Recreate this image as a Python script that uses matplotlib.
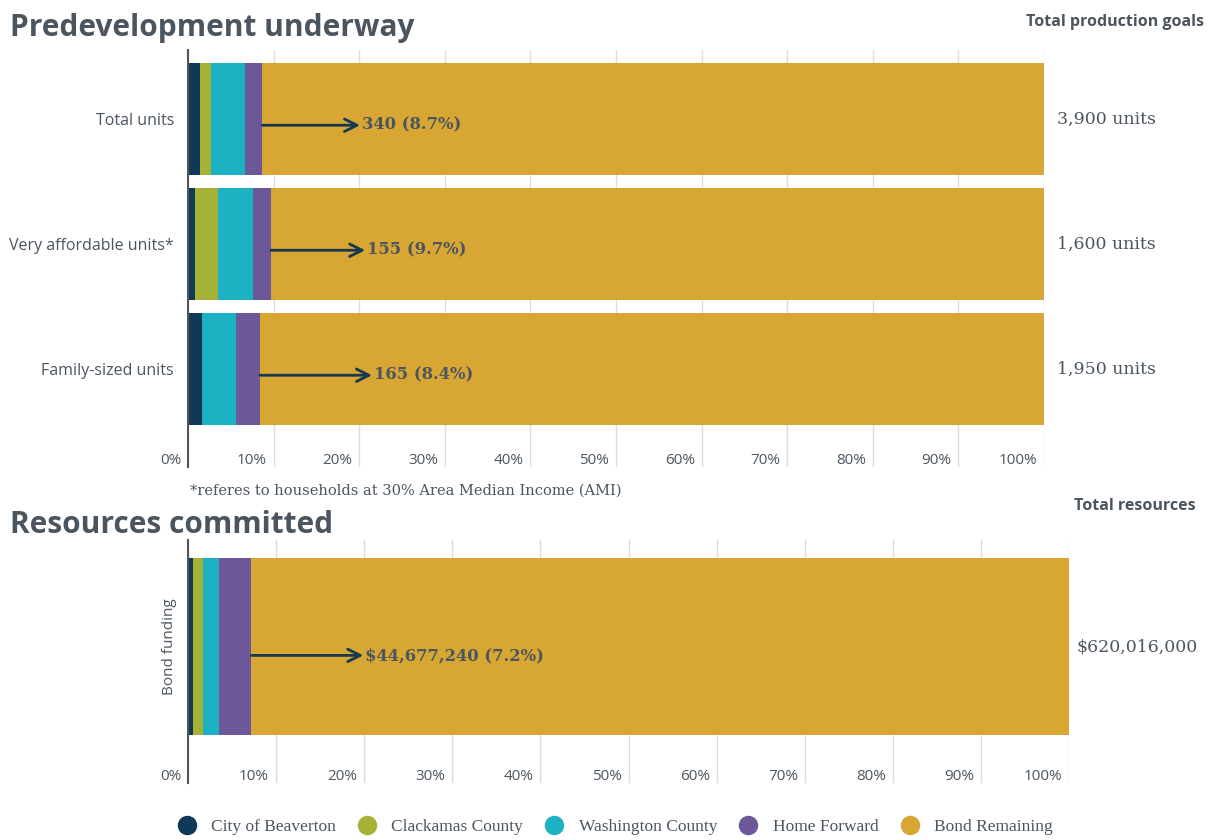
import matplotlib.pyplot as plt
from matplotlib.lines import Line2D
from matplotlib.transforms import ScaledTranslation

# ---- data -------------------------------------------------------------
series = ["City of Beaverton", "Clackamas County", "Washington County", "Home Forward"]
colors = ["#0f3a57", "#a6b236", "#1db1c4", "#6c5898"]
remain_color = "#d8a633"

unit_rows = ["Total units", "Very affordable units*", "Family-sized units"]
unit_shares = {  # percent of goal, per partner
    "City of Beaverton": [1.4, 0.8, 1.6],
    "Clackamas County": [1.3, 2.7, 0.0],
    "Washington County": [4.0, 4.1, 4.05],
    "Home Forward": [2.0, 2.1, 2.75],
}
unit_labels = ["340 (8.7%)", "155 (9.7%)", "165 (8.4%)"]
unit_goals = ["3,900 units", "1,600 units", "1,950 units"]

fund_rows = ["Bond funding"]
fund_shares = {
    "City of Beaverton": [0.6],
    "Clackamas County": [1.1],
    "Washington County": [1.8],
    "Home Forward": [3.7],
}
fund_labels = ["$44,677,240 (7.2%)"]
fund_goals = ["$620,016,000"]

ticks = list(range(0, 101, 10))
tick_labels = [f"{t}%" for t in ticks]

# ---- style ------------------------------------------------------------
GRAY = "#4b5560"
SANS = ["Open Sans", "DejaVu Sans"]
SLAB = ["DejaVu Serif"]
SERIF = ["Liberation Serif", "DejaVu Serif"]
ARROW = "#17394f"

fig = plt.figure(figsize=(12.17, 8.40), dpi=100)


def panel(rect, rows, shares, labels, goals, ylim, height, label_x, goal_dx, rotate=False):
    ax = fig.add_axes(rect)
    left = [0.0] * len(rows)
    for name, col in zip(series, colors):
        vals = shares[name]
        ax.barh(range(len(rows)), vals, left=left, height=height, color=col, zorder=3)
        left = [l + v for l, v in zip(left, vals)]
    ax.barh(range(len(rows)), [100 - l for l in left], left=left, height=height,
            color=remain_color, zorder=3)
    for i, (l, txt, lx) in enumerate(zip(left, labels, label_x)):
        yy = i + 0.05
        ax.annotate("", xy=(lx, yy), xytext=(l, yy),
                    arrowprops=dict(arrowstyle="->,head_length=0.9,head_width=0.45",
                                    color=ARROW, lw=2.0, shrinkA=0, shrinkB=0), zorder=5)
        ax.text(lx + 0.2, yy, txt, ha="left", va="center", fontsize=11.8,
                fontweight="bold", color=GRAY, family=SLAB, zorder=6)
    shift = ScaledTranslation(goal_dx / 100, 0, fig.dpi_scale_trans)
    for i, g in enumerate(goals):
        ax.text(1.0, i, g, transform=ax.get_yaxis_transform() + shift, ha="left", va="center",
                fontsize=12.5, color=GRAY, family=SLAB)
    ax.set_xlim(0, 100)
    ax.set_ylim(*ylim)
    ax.set_xticks(ticks)
    ax.set_xticklabels(tick_labels, fontsize=11, color=GRAY, family=SANS)
    ax.tick_params(axis="x", length=0, pad=-10)
    for lab in ax.get_xticklabels():
        lab.set_ha("right")
        lab.set_transform(lab.get_transform() + ScaledTranslation(-5 / 72, 0, fig.dpi_scale_trans))
    ax.set_yticks(range(len(rows)))
    if rotate:
        ax.set_yticklabels([])
        ax.tick_params(axis="y", length=0)
        ax.text(-0.012, 0, rows[0], transform=ax.get_yaxis_transform(), rotation=90,
                ha="right", va="center", fontsize=11, color=GRAY, family=SANS)
    else:
        ax.set_yticklabels(rows, fontsize=11.5, color=GRAY, family=SANS)
        ax.tick_params(axis="y", length=0, pad=10)
    ax.grid(axis="x", color="#dddddd", lw=1, zorder=0)
    for s in ["top", "right", "bottom"]:
        ax.spines[s].set_visible(False)
    ax.spines["left"].set_color("#555555")
    ax.spines["left"].set_linewidth(1.5)
    ax.spines["left"].set_zorder(4)
    return ax


W = 1217.0
H = 840.0
panel([188 / W, 1 - 467 / H, 856 / W, 417 / H], unit_rows, unit_shares, unit_labels,
      unit_goals, (2.784, -0.552), 0.896, [20.1, 20.7, 21.5], 13)
panel([188 / W, 1 - 783 / H, 881 / W, 243 / H], fund_rows, fund_shares, fund_labels,
      fund_goals, (0.771, -0.602), 1.0, [19.9], 7, rotate=True)

fig.text(10 / W, 1 - 28 / H, "Predevelopment underway", fontsize=21.5, fontweight="bold",
         color=GRAY, family=SANS, va="center", ha="left")
fig.text(10 / W, 1 - 525 / H, "Resources committed", fontsize=21.5, fontweight="bold",
         color=GRAY, family=SANS, va="center", ha="left")
fig.text(1204 / W, 1 - 22 / H, "Total production goals", fontsize=11.5, fontweight="bold",
         color=GRAY, family=SANS, va="center", ha="right")
fig.text(1196 / W, 1 - 506 / H, "Total resources", fontsize=11.5, fontweight="bold",
         color=GRAY, family=SANS, va="center", ha="right")
fig.text(190 / W, 1 - 491 / H, "*referes to households at 30% Area Median Income (AMI)",
         fontsize=10.5, color=GRAY, family=SLAB, va="center", ha="left")

handles = [Line2D([], [], ls="none", marker="o", ms=13, color=c)
           for c in colors + [remain_color]]
fig.legend(handles, series + ["Bond Remaining"], loc="center", bbox_to_anchor=(611 / W, 1 - 827 / H),
           ncol=5, frameon=False, handletextpad=0.4, columnspacing=0.8,
           prop=dict(family=SERIF, size=12.5), labelcolor=GRAY)

fig.savefig("out.png", dpi=100)
